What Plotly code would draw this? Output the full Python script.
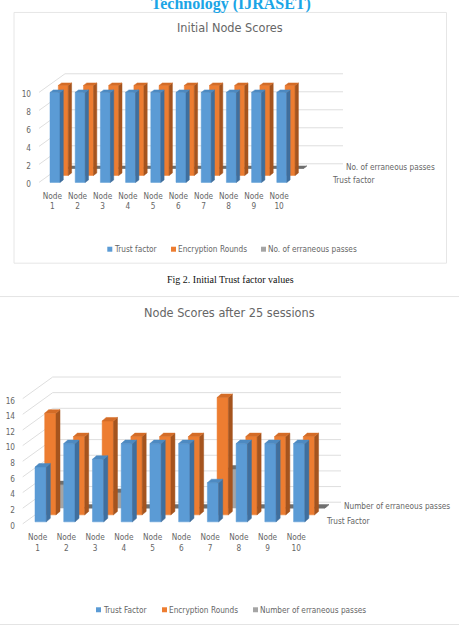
import plotly.graph_objects as go

FIG_W, FIG_H = 459, 633

# Series values
NODES = list(range(1, 11))
NODE_TICKS = [f"Node<br>{n}" for n in NODES]

INITIAL_TRUST = [10, 10, 10, 10, 10, 10, 10, 10, 10, 10]
INITIAL_ROUNDS = [10, 10, 10, 10, 10, 10, 10, 10, 10, 10]
INITIAL_ERRORS = [0, 0, 0, 0, 0, 0, 0, 0, 0, 0]

SESSION_TRUST = [7, 10, 8, 10, 10, 10, 5, 10, 10, 10]
SESSION_ROUNDS = [13, 10, 12, 10, 10, 10, 15, 10, 10, 10]
SESSION_ERRORS = [3, 0, 2, 0, 0, 0, 5, 0, 0, 0]

INITIAL_TICKS = [0, 2, 4, 6, 8, 10]
SESSION_TICKS = [0, 2, 4, 6, 8, 10, 12, 14, 16]

BLUE = ("#5b9bd5", "#3f6f9e", "#4d8ac2")
ORANGE = ("#ed7d31", "#a5541e", "#d46c27")
GREY = ("#a5a5a5", "#767676", "#6f6f6f")

SANS = "DejaVu Sans Condensed, DejaVu Sans, sans-serif"
SERIF = "Liberation Serif, serif"
TEXT = "#666666"
GRID = "#dedede"
LABEL_SIZE = 8.2
TITLE_SIZE = 12.6


def px_x(x):
    return x / FIG_W


def px_y(y):
    return 1 - y / FIG_H


def cuboids(values, left, base, width, depth_x, depth_y):
    """Front, side and top outlines of one series, in axis units."""
    front, side, top = ([], []), ([], []), ([], [])
    for node, v in zip(NODES, values):
        l, r = node + left, node + left + width
        b, t = base, base + v
        rings = (
            (front, [l, r, r, l, l], [b, b, t, t, b]),
            (side, [r, r + depth_x, r + depth_x, r, r],
             [b, b + depth_y, t + depth_y, t, b]),
            (top, [l, r, r + depth_x, l + depth_x, l],
             [t, t, t + depth_y, t + depth_y, t]),
        )
        for face, xs, ys in rings:
            face[0].extend(xs + [None])
            face[1].extend(ys + [None])
    return front, side, top


def add_chart(fig, xa, ya, geo, series, ticks):
    ax, ay = ("x" + xa, "y" + ya)
    sx, sy = geo["node_px"], geo["unit_px"]
    wall_dx, wall_dy = geo["wall"][0] / sx, geo["wall"][1] / sy
    floor_left = (geo["wall_left"] - geo["first_node"]) / sx + 1
    back_right = (geo["wall_right"] - geo["first_node"]) / sx + 1

    # Back wall gridlines with their short diagonals on the side wall
    gx, gy = [], []
    for t in ticks:
        gx += [floor_left, floor_left + wall_dx, back_right, None]
        gy += [t, t + wall_dy, t + wall_dy, None]
    fig.add_trace(go.Scatter(x=gx, y=gy, mode="lines", xaxis=ax, yaxis=ay,
                             line=dict(color=GRID, width=1), showlegend=False,
                             hoverinfo="skip"))

    for values, colors, shift_px, lift_px in series:
        faces = cuboids(values, shift_px / sx, lift_px / sy, geo["bar_px"] / sx,
                        geo["depth"][0] / sx, geo["depth"][1] / sy)
        for (xs, ys), color in zip(faces, colors):
            fig.add_trace(go.Scatter(x=xs, y=ys, mode="lines", fill="toself",
                                     fillcolor=color, xaxis=ax, yaxis=ay,
                                     line=dict(color=color, width=0.5),
                                     showlegend=False, hoverinfo="skip"))


def axis_pair(layout, suffix, geo, ticks):
    sx, sy = geo["node_px"], geo["unit_px"]
    left, right = geo["dom_x"]
    top, bottom = geo["dom_y"]
    layout[f"xaxis{suffix}"] = dict(
        domain=[px_x(left), px_x(right)],
        range=[(left - geo["first_node"]) / sx + 1, (right - geo["first_node"]) / sx + 1],
        tickmode="array", tickvals=NODES, ticktext=NODE_TICKS,
        showgrid=False, zeroline=False, showline=False, ticks="",
        ticklabelstandoff=2,
        tickfont=dict(family=SANS, size=LABEL_SIZE, color=TEXT),
        anchor=f"y{suffix}",
    )
    layout[f"yaxis{suffix}"] = dict(
        domain=[px_y(bottom), px_y(top)],
        range=[(geo["zero_px"] - bottom) / sy, (geo["zero_px"] - top) / sy],
        tickmode="array", tickvals=ticks,
        showgrid=False, zeroline=False, showline=False, ticks="",
        ticklabelstandoff=4, ticklabelshift=2,
        tickfont=dict(family=SANS, size=LABEL_SIZE, color=TEXT),
        anchor=f"x{suffix}",
    )


def label(fig, text, x, y, size, anchor="left", color=TEXT, family=SANS, **font):
    # Left-anchored annotations carry about 2.5px of padding
    x_at = x - 2.5 if anchor == "left" else x
    fig.add_annotation(text=text, x=px_x(x_at), y=px_y(y), xref="paper", yref="paper",
                       xanchor=anchor, yanchor="middle", showarrow=False,
                       font=dict(family=family, size=size, color=color, **font))


def swatch(fig, x, y, color):
    fig.add_shape(type="rect", xref="paper", yref="paper", line_width=0,
                  x0=px_x(x), x1=px_x(x + 5), y0=px_y(y + 2.5), y1=px_y(y - 2.5),
                  fillcolor=color)


def rule(fig, x0, y0, x1, y1):
    fig.add_shape(type="line", xref="paper", yref="paper", line=dict(color="#e4e4e4", width=1),
                  x0=px_x(x0), x1=px_x(x1), y0=px_y(y0), y1=px_y(y1))


INITIAL_GEO = dict(first_node=52.3, node_px=25.2, zero_px=183.0, unit_px=9.03,
                   bar_px=10, depth=(3.3, 2.5), wall=(26, 18.7),
                   wall_left=39, wall_right=343,
                   dom_x=(36, 346), dom_y=(60, 188))
SESSION_GEO = dict(first_node=37.7, node_px=28.73, zero_px=525.5, unit_px=7.85,
                   bar_px=11.3, depth=(4, 3.5), wall=(30, 21.7),
                   wall_left=22.7, wall_right=341,
                   dom_x=(20, 346), dom_y=(360, 530.5))

fig = go.Figure()
add_chart(fig, "", "", INITIAL_GEO, [
    (INITIAL_ERRORS, GREY, 14.3, 14),
    (INITIAL_ROUNDS, ORANGE, 6.0, 7),
    (INITIAL_TRUST, BLUE, -2.3, 0),
], INITIAL_TICKS)
add_chart(fig, "2", "2", SESSION_GEO, [
    (SESSION_ERRORS, GREY, 17.3, 15.8),
    (SESSION_ROUNDS, ORANGE, 7.0, 9),
    (SESSION_TRUST, BLUE, -2.7, 2),
], SESSION_TICKS)

layout = dict(width=FIG_W, height=FIG_H, autosize=False,
              margin=dict(l=0, r=0, t=0, b=0, pad=0),
              paper_bgcolor="white", plot_bgcolor="white", showlegend=False)
axis_pair(layout, "", INITIAL_GEO, INITIAL_TICKS)
axis_pair(layout, "2", SESSION_GEO, SESSION_TICKS)
fig.update_layout(**layout)

# Journal header, clipped by the top of the page
label(fig, "Technology (IJRASET)", 231, 4, 16, anchor="center", color="#1ba5e6",
      family=SERIF, weight="bold")

# First chart frame and texts
fig.add_shape(type="rect", xref="paper", yref="paper", line=dict(color="#e6e6e6", width=1),
              x0=px_x(14), x1=px_x(446.5), y0=px_y(264), y1=px_y(12.5))
label(fig, "Initial Node Scores", 230, 28, TITLE_SIZE, anchor="center")
label(fig, "No. of erraneous passes", 346, 168, LABEL_SIZE)
label(fig, "Trust factor", 332, 181, LABEL_SIZE)
for x, color, tx, text in [(107.3, BLUE[0], 114.3, "Trust factor"),
                           (171, ORANGE[0], 178.3, "Encryption Rounds"),
                           (261, GREY[0], 268.5, "No. of erraneous passes")]:
    swatch(fig, x, 250, color)
    label(fig, text, tx, 250, LABEL_SIZE)
label(fig, "Fig 2. Initial Trust factor values", 230.5, 280, 10, anchor="center",
      color="#111111", family=SERIF)
rule(fig, 0, 297.5, 459, 297.5)

# Second chart texts
label(fig, "Node Scores after 25 sessions", 229, 313, TITLE_SIZE, anchor="center")
label(fig, "Number of erraneous passes", 344, 507.7, LABEL_SIZE)
label(fig, "Trust Factor", 326, 522.6, LABEL_SIZE)
for x, color, tx, text in [(96, BLUE[0], 103, "Trust Factor"),
                           (162, ORANGE[0], 169.5, "Encryption Rounds"),
                           (253, GREY[0], 260.5, "Number of erraneous passes")]:
    swatch(fig, x, 611.7, color)
    label(fig, text, tx, 611.7, LABEL_SIZE)
rule(fig, 0, 626.5, 459, 626.5)

fig.write_html("out.html")
